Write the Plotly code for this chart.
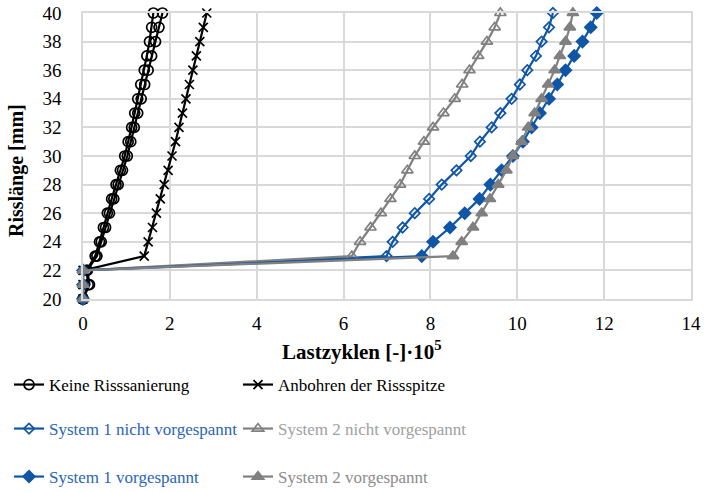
import plotly.graph_objects as go

# Crack length (mm)
crack_mm = list(range(20, 41))

# Load cycles [-]·10^5 per crack length
keine_a = [0.0, 0.12, 0.08, 0.28, 0.38, 0.47, 0.56, 0.66, 0.76, 0.86, 0.96, 1.04, 1.12, 1.19, 1.26, 1.33, 1.41, 1.47, 1.53, 1.58, 1.62]
keine_b = [0.0, 0.15, 0.10, 0.32, 0.42, 0.52, 0.61, 0.71, 0.81, 0.91, 1.02, 1.10, 1.18, 1.26, 1.34, 1.42, 1.50, 1.58, 1.67, 1.75, 1.83]
anbohren = [0.0, 0.0, 0.0, 1.41, 1.50, 1.60, 1.69, 1.78, 1.87, 1.96, 2.05, 2.13, 2.21, 2.29, 2.37, 2.45, 2.53, 2.61, 2.69, 2.77, 2.85]
sys1_nicht = [0.0, 0.0, 0.0, 6.99, 7.13, 7.36, 7.64, 7.97, 8.26, 8.60, 8.93, 9.14, 9.41, 9.61, 9.87, 10.06, 10.23, 10.43, 10.56, 10.73, 10.82]
sys2_nicht = [0.0, 0.0, 0.0, 6.19, 6.38, 6.62, 6.86, 7.08, 7.30, 7.47, 7.64, 7.85, 8.06, 8.30, 8.56, 8.73, 8.90, 9.10, 9.30, 9.48, 9.61]
sys1_vor = [0.0, 0.0, 0.0, 7.80, 8.06, 8.45, 8.79, 9.13, 9.38, 9.64, 9.90, 10.13, 10.33, 10.52, 10.73, 10.92, 11.11, 11.31, 11.50, 11.69, 11.83]
sys2_vor = [0.0, 0.0, 0.0, 8.52, 8.72, 8.98, 9.18, 9.37, 9.56, 9.75, 9.90, 10.10, 10.25, 10.40, 10.56, 10.71, 10.86, 10.98, 11.11, 11.21, 11.28]

x_ticks = [0, 2, 4, 6, 8, 10, 12, 14]
y_ticks = [20, 22, 24, 26, 28, 30, 32, 34, 36, 38, 40]

BLACK = "#000000"
BLUE = "#0f56a6"
BLUE_TXT = "#2a66b8"
GRAY = "#808080"
FONT = "Liberation Serif"

fig = go.Figure()

def add(x, name, color, symbol, size, legend, lwidth, show=True, lw=2.2, mlw=1.7, text_color=None):
    label = name if text_color is None else f"<span style='color:{text_color}'>{name}</span>"
    fig.add_trace(go.Scatter(
        x=x, y=crack_mm, mode="lines+markers", name=label,
        line=dict(color=color, width=lw),
        marker=dict(symbol=symbol, size=size, color=color,
                    line=dict(color=color, width=mlw)),
        showlegend=show, legend=legend, legendwidth=lwidth, cliponaxis=False,
    ))

add(keine_a, "Keine Risssanierung", BLACK, "circle-open", 10, "legend", 184)
add(anbohren, "Anbohren der Rissspitze", BLACK, "x-thin", 9, "legend", 230)
add(keine_b, "Keine Risssanierung", BLACK, "circle-open", 10, "legend", 184, show=False)
add(sys1_nicht, "System 1 nicht vorgespannt", BLUE, "diamond-open", 8, "legend2", 184, text_color=BLUE_TXT)
add(sys2_nicht, "System 2 nicht vorgespannt", GRAY, "triangle-up-open", 10, "legend2", 230, text_color="#a0a0a0")
add(sys1_vor, "System 1 vorgespannt", BLUE, "diamond", 9, "legend3", 184, text_color=BLUE_TXT)
add(sys2_vor, "System 2 vorgespannt", GRAY, "triangle-up", 10, "legend3", 230, text_color="#8c8c8c")

W, H = 704, 492
legend_common = dict(orientation="h", xref="container", yref="container",
                     x=9 / W, xanchor="left", yanchor="middle",
                     entrywidthmode="pixels",
                     font=dict(family=FONT, size=17, color=BLACK),
                     bgcolor="rgba(0,0,0,0)", itemclick=False)

fig.update_layout(
    width=W, height=H,
    margin=dict(l=83, r=13, t=13, b=193, autoexpand=False),
    paper_bgcolor="white", plot_bgcolor="white",
    font=dict(family=FONT, size=19, color=BLACK),
    xaxis=dict(range=[0, 14], tickvals=x_ticks, showgrid=True, gridcolor="#d9d9d9", gridwidth=1.5,
               showline=True, linecolor="#d9d9d9", linewidth=1.5, mirror=True, zeroline=False,
               automargin=False, ticks="", ticklabelstandoff=6, tickfont=dict(family=FONT, size=19)),
    yaxis=dict(range=[20, 40], tickvals=y_ticks, showgrid=True, gridcolor="#d9d9d9", gridwidth=1.5,
               showline=True, linecolor="#d9d9d9", linewidth=1.5, mirror=True, zeroline=False,
               automargin=False, ticks="", ticklabelstandoff=16, tickfont=dict(family=FONT, size=19)),
    legend=dict(legend_common, y=1 - 385 / H),
    legend2=dict(legend_common, y=1 - 429 / H),
    legend3=dict(legend_common, y=1 - 477 / H),
    annotations=[
        dict(text="<b>Lastzyklen [-]·10<sup>5</sup></b>", xref="paper", yref="paper",
             x=(362 - 83) / 608, y=-(350 - 299) / 286, xanchor="center", yanchor="middle",
             showarrow=False, font=dict(family=FONT, size=21, color=BLACK)),
        dict(text="<b>Risslänge [mm]</b>", xref="paper", yref="paper", textangle=-90,
             x=-(83 - 16) / 608, y=(299 - 171) / 286, xanchor="center", yanchor="middle",
             showarrow=False, font=dict(family=FONT, size=20, color=BLACK)),
    ],
)

fig.write_html("out.html", config={"displayModeBar": False},
               post_script="document.body.style.margin='0px';")
